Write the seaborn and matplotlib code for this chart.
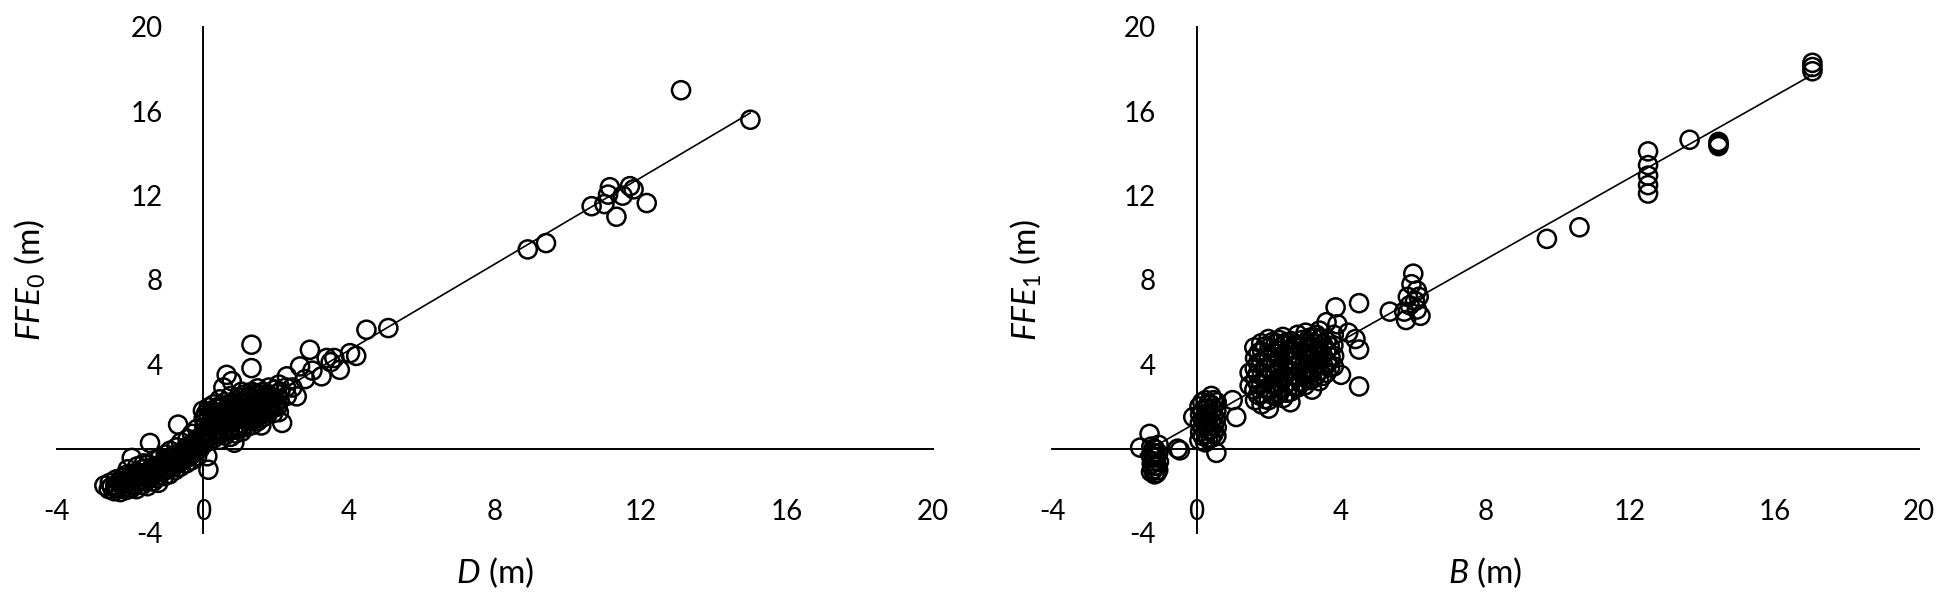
import seaborn as sns
import pandas as pd
import numpy as np
import matplotlib.pyplot as plt

# ---- left panel: D vs FFE0 ----
left_neg_band = [
    (-2.58, -1.92), (-2.55, -1.62), (-2.7, -1.75),
    (-2.43, -2.02), (-2.4, -1.74), (-2.38, -1.46),
    (-2.26, -2.06), (-2.24, -1.72), (-2.22, -1.38),
    (-2.1, -1.96), (-2.08, -1.6), (-2.12, -1.26), (-2.06, -0.98),
    (-1.96, -1.88), (-1.94, -1.5), (-1.92, -1.18),
    (-1.82, -1.92), (-1.8, -1.56), (-1.78, -1.14), (-1.8, -0.84),
    (-1.66, -1.72), (-1.64, -1.34), (-1.66, -0.98), (-1.62, -0.7),
    (-1.52, -1.78), (-1.5, -1.4), (-1.48, -1.06), (-1.5, -0.74),
    (-1.36, -1.56), (-1.34, -1.2), (-1.36, -0.86), (-1.32, -0.54),
    (-1.22, -1.62), (-1.2, -1.26), (-1.18, -0.9), (-1.2, -0.5),
    (-1.06, -1.3), (-1.04, -0.96), (-1.06, -0.6), (-1.02, -0.28),
    (-0.92, -1.22), (-0.9, -0.8), (-0.88, -0.44), (-0.9, -0.1),
    (-0.76, -1.02), (-0.74, -0.66), (-0.76, -0.3), (-0.72, 0.06),
    (-0.62, -0.86), (-0.6, -0.5), (-0.58, -0.14), (-0.6, 0.3),
    (-0.46, -0.7), (-0.44, -0.3), (-0.46, 0.06), (-0.42, 0.46),
    (-0.32, -0.56), (-0.3, -0.16), (-0.28, 0.26), (-0.3, 0.7),
    (-0.16, -0.36), (-0.14, 0.1), (-0.12, 0.5), (-0.16, 0.94),
    (-2.5, -1.8), (-2.33, -1.88), (-2.31, -1.58), (-2.17, -1.85), (-2.15, -1.5),
    (-2.0, -1.7), (-2.0, -1.35), (-1.87, -1.72), (-1.86, -1.35), (-1.72, -1.5),
    (-1.7, -1.18), (-1.58, -1.55), (-1.56, -1.2), (-1.43, -1.35), (-1.42, -1.0),
    (-1.28, -1.4), (-1.27, -1.05), (-1.13, -1.1), (-1.12, -0.75), (-0.98, -1.0),
    (-0.97, -0.65), (-0.83, -0.9), (-0.82, -0.55), (-0.68, -0.7), (-0.67, -0.35),
    (-0.53, -0.55), (-0.52, -0.2), (-0.38, -0.4), (-0.37, -0.02), (-0.23, -0.2),
    (-0.22, 0.22), (-0.08, 0.0), (-0.07, 0.4),
]
left_pos_band = [
    (0.02, 0.22), (0.0, 0.62), (0.04, 1.02), (0.02, 1.42), (0.0, 1.8),
    (0.16, 0.36), (0.14, 0.76), (0.18, 1.16), (0.15, 1.56), (0.16, 1.96),
    (0.3, 0.5), (0.32, 0.9), (0.28, 1.3), (0.31, 1.7), (0.3, 2.1),
    (0.46, 0.42), (0.44, 0.82), (0.47, 1.22), (0.45, 1.6), (0.44, 2.0), (0.46, 2.34),
    (0.6, 0.62), (0.62, 1.02), (0.58, 1.4), (0.61, 1.8), (0.6, 2.2),
    (0.76, 0.56), (0.74, 0.96), (0.77, 1.36), (0.75, 1.76), (0.74, 2.14), (0.76, 2.5),
    (0.9, 0.72), (0.92, 1.1), (0.88, 1.5), (0.91, 1.9), (0.9, 2.3),
    (1.06, 0.8), (1.04, 1.2), (1.07, 1.6), (1.05, 2.0), (1.04, 2.4), (1.06, 2.7),
    (1.2, 1.02), (1.22, 1.4), (1.18, 1.8), (1.21, 2.2), (1.2, 2.6),
    (1.36, 1.12), (1.34, 1.5), (1.37, 1.9), (1.35, 2.3), (1.34, 2.7),
    (1.5, 1.3), (1.52, 1.7), (1.48, 2.1), (1.51, 2.5), (1.5, 2.86),
    (1.66, 1.5), (1.64, 1.9), (1.67, 2.3), (1.65, 2.7),
    (1.8, 1.72), (1.82, 2.1), (1.78, 2.5), (1.81, 2.9),
    (1.96, 2.0), (1.94, 2.4), (1.97, 2.8),
    (2.1, 2.3), (2.12, 2.7), (2.08, 3.04),
    (2.3, 2.5), (2.28, 2.9),
    (0.08, 0.45), (0.08, 0.85), (0.09, 1.25), (0.08, 1.65), (0.23, 0.6), (0.22, 1.0),
    (0.24, 1.4), (0.23, 1.8), (0.38, 0.7), (0.37, 1.1), (0.39, 1.5), (0.38, 1.9),
    (0.53, 0.8), (0.52, 1.2), (0.54, 1.6), (0.53, 2.0), (0.68, 0.8), (0.67, 1.2),
    (0.69, 1.6), (0.68, 2.0), (0.83, 0.9), (0.82, 1.3), (0.84, 1.7), (0.83, 2.1),
    (0.98, 1.0), (0.97, 1.4), (0.99, 1.8), (0.98, 2.2), (1.13, 1.1), (1.12, 1.5),
    (1.14, 1.9), (1.13, 2.3), (1.28, 1.3), (1.27, 1.7), (1.29, 2.1), (1.28, 2.5),
    (1.43, 1.4), (1.42, 1.8), (1.44, 2.2), (1.43, 2.6), (1.58, 1.6), (1.57, 2.0),
    (1.59, 2.4), (1.73, 1.8), (1.72, 2.2), (1.74, 2.6), (1.88, 2.0), (1.87, 2.4),
    (2.02, 2.2), (2.03, 2.6),
]
left_sparse = [
    (-1.95, -0.44), (-1.45, 0.27), (-0.68, 1.14), (0.15, -1.0), (0.12, -0.36),
    (0.56, 2.9), (0.65, 3.5), (0.79, 3.2), (1.33, 3.82), (1.33, 4.93),
    (0.86, 0.28), (1.6, 1.1), (2.08, 1.73), (2.17, 1.22), (1.93, 1.69),
    (2.04, 1.99), (1.77, 2.6), (2.57, 2.48), (2.3, 3.43), (2.45, 2.9),
    (2.66, 3.9), (2.8, 3.3), (2.93, 4.69), (3.0, 3.7), (3.25, 3.43),
    (3.39, 4.3), (3.5, 4.1), (3.6, 4.3), (3.75, 3.74), (4.03, 4.53),
    (4.2, 4.4), (4.48, 5.64), (5.08, 5.72),
    (8.9, 9.45), (9.4, 9.75),
    (10.65, 11.5), (11.0, 11.6), (11.1, 12.05), (11.15, 12.4), (11.33, 11.0),
    (11.5, 12.0), (11.7, 12.45), (11.8, 12.3), (12.16, 11.65),
    (13.1, 17.0), (15.0, 15.6),
]

# ---- right panel: B vs FFE1 ----
right_neg_group = [
    (-1.26, -1.1), (-1.24, -0.72), (-1.27, -0.32), (-1.25, 0.1),
    (-1.16, -1.22), (-1.14, -0.82), (-1.16, -0.42), (-1.15, -0.02),
    (-1.06, -1.02), (-1.04, -0.62), (-1.06, -0.22), (-1.05, 0.18),
    (-1.2, -1.0), (-1.2, -0.6), (-1.2, -0.2), (-1.19, 0.0),
    (-1.1, -1.15), (-1.1, -0.8), (-1.11, -0.4),
    (-1.3, 0.7), (-1.56, 0.05), (-0.52, 0.0), (-0.46, -0.08),
]
right_column = [
    (0.08, 0.4), (0.1, 0.8), (0.09, 1.2), (0.1, 1.6), (0.08, 2.0),
    (0.24, 0.3), (0.26, 0.7), (0.25, 1.1), (0.24, 1.5), (0.26, 1.9), (0.25, 2.3),
    (0.4, 0.5), (0.39, 0.9), (0.41, 1.3), (0.4, 1.7), (0.39, 2.1), (0.41, 2.5),
    (0.55, 0.6), (0.56, 1.0), (0.54, 1.4), (0.55, 1.8), (0.56, 2.2),
    (0.17, 0.6), (0.17, 1.0), (0.18, 1.4), (0.17, 1.8), (0.16, 2.2),
    (0.32, 0.5), (0.33, 0.9), (0.32, 1.3), (0.31, 1.7), (0.32, 2.1),
    (0.47, 0.7), (0.48, 1.1), (0.47, 1.5), (0.46, 1.9), (0.47, 2.3),
    (-0.09, 1.5), (0.55, -0.2), (1.1, 1.5), (1.0, 2.3), (1.47, 3.0), (1.47, 3.6),
]
right_blob = [
    (1.62, 2.3), (1.6, 2.8), (1.63, 3.3), (1.61, 3.8), (1.62, 4.3), (1.6, 4.8),
    (1.8, 2.1), (1.82, 2.6), (1.79, 3.1), (1.81, 3.6), (1.8, 4.1), (1.82, 4.6), (1.79, 5.0),
    (2.0, 2.3), (2.02, 2.8), (1.99, 3.3), (2.01, 3.8), (2.0, 4.3), (2.02, 4.8), (1.99, 5.2),
    (2.2, 2.5), (2.21, 3.0), (2.19, 3.5), (2.2, 4.0), (2.22, 4.5), (2.2, 5.0),
    (2.4, 2.4), (2.41, 2.9), (2.39, 3.4), (2.4, 3.9), (2.42, 4.4), (2.4, 4.9), (2.39, 5.3),
    (2.6, 2.7), (2.62, 3.2), (2.59, 3.7), (2.61, 4.2), (2.6, 4.7), (2.62, 5.1),
    (2.8, 2.9), (2.81, 3.4), (2.79, 3.9), (2.8, 4.4), (2.82, 4.9), (2.8, 5.4),
    (3.0, 3.0), (3.02, 3.5), (2.99, 4.0), (3.01, 4.5), (3.0, 5.0), (3.02, 5.5),
    (3.2, 3.3), (3.21, 3.8), (3.19, 4.3), (3.2, 4.8), (3.22, 5.3),
    (3.4, 3.2), (3.41, 3.7), (3.39, 4.2), (3.4, 4.7), (3.42, 5.2), (3.4, 5.6),
    (3.6, 3.6), (3.61, 4.1), (3.59, 4.6), (3.6, 5.1),
    (3.8, 3.9), (3.81, 4.4), (3.79, 4.9), (3.8, 5.4),
    (1.7, 2.55), (1.71, 3.05), (1.69, 3.55), (1.7, 4.05), (1.72, 4.55),
    (1.9, 2.35), (1.91, 2.85), (1.89, 3.35), (1.9, 3.85), (1.92, 4.35), (1.9, 4.85),
    (2.1, 2.55), (2.11, 3.05), (2.09, 3.55), (2.1, 4.05), (2.12, 4.55), (2.1, 5.05),
    (2.3, 2.65), (2.31, 3.15), (2.29, 3.65), (2.3, 4.15), (2.32, 4.65), (2.3, 5.15),
    (2.5, 2.65), (2.51, 3.15), (2.49, 3.65), (2.5, 4.15), (2.52, 4.65), (2.5, 5.05),
    (2.7, 2.95), (2.71, 3.45), (2.69, 3.95), (2.7, 4.45), (2.72, 4.95),
    (2.9, 3.15), (2.91, 3.65), (2.89, 4.15), (2.9, 4.65), (2.92, 5.15),
    (3.1, 3.25), (3.11, 3.75), (3.09, 4.25), (3.1, 4.75), (3.12, 5.25),
    (3.3, 3.45), (3.31, 3.95), (3.29, 4.45), (3.3, 4.95), (3.32, 5.4),
    (3.5, 3.45), (3.51, 3.95), (3.49, 4.45), (3.5, 4.95),
    (3.7, 3.85), (3.71, 4.35), (3.69, 4.85),
]
right_sparse = [
    (2.0, 1.9), (2.6, 2.2), (3.2, 2.8), (4.0, 3.5), (3.85, 6.7), (4.5, 6.9),
    (4.5, 4.7), (4.5, 2.95), (4.2, 5.5), (4.4, 5.2), (3.9, 5.9), (3.6, 6.0),
    (6.0, 8.3), (5.95, 7.8), (6.1, 7.5), (5.85, 7.2), (6.05, 7.0), (5.9, 6.8),
    (6.1, 6.6), (5.75, 6.5), (5.35, 6.5), (5.8, 6.1), (6.2, 6.3), (6.15, 7.2),
    (9.7, 9.95), (10.6, 10.5),
    (12.5, 14.1), (12.5, 13.45), (12.5, 12.95), (12.5, 12.5), (12.5, 12.1),
    (13.65, 14.65), (14.45, 14.55), (14.45, 14.45), (14.45, 14.35),
    (17.05, 18.3), (17.05, 18.1), (17.05, 17.9),
]

x_ticks = [-4, 0, 4, 8, 12, 16, 20]
y_ticks = [-4, 4, 8, 12, 16, 20]

sns.set_style('white')
plt.rcParams['font.family'] = ['Lato', 'DejaVu Sans']
plt.rcParams['mathtext.fontset'] = 'custom'
plt.rcParams['mathtext.rm'] = 'Lato'
plt.rcParams['mathtext.it'] = 'Lato:italic'
plt.rcParams['axes.unicode_minus'] = False
plt.rcParams['text.color'] = 'black'
plt.rcParams['axes.labelcolor'] = 'black'
plt.rcParams['xtick.color'] = 'black'
plt.rcParams['ytick.color'] = 'black'

left = pd.DataFrame(left_neg_band + left_pos_band + left_sparse, columns=['D', 'FFE0'])
right = pd.DataFrame(right_neg_group + right_column + right_blob + right_sparse, columns=['B', 'FFE1'])

fig = plt.figure(figsize=(19.5, 6.09), dpi=100)
ax1 = fig.add_axes([0.0292, 0.1248, 0.4492, 0.8309])
ax2 = fig.add_axes([0.5395, 0.1248, 0.4446, 0.8309])

panels = [(ax1, left, 'D', 'FFE0', r'$\mathit{D}$ (m)', r'$\mathit{FFE}_{\mathit{0}}$ (m)'),
          (ax2, right, 'B', 'FFE1', r'$\mathit{B}$ (m)', r'$\mathit{FFE}_{\mathit{1}}$ (m)')]

for ax, df, xc, yc, xlab, ylab in panels:
    sns.regplot(data=df, x=xc, y=yc, ax=ax, ci=None, truncate=True,
                scatter_kws=dict(facecolors='none', edgecolors='black', s=170,
                                 linewidths=1.8, alpha=1),
                line_kws=dict(color='black', lw=1.2))
    ax.set_xlim(-4, 20)
    ax.set_ylim(-4, 20)
    ax.set_xticks(x_ticks)
    ax.set_yticks(y_ticks)
    for s in ['top', 'right']:
        ax.spines[s].set_visible(False)
    ax.spines['left'].set_position(('data', 0))
    ax.spines['bottom'].set_position(('data', 0))
    for s in ['left', 'bottom']:
        ax.spines[s].set_color('black')
        ax.spines[s].set_linewidth(1.4)
    ax.tick_params(axis='x', length=0, pad=36, labelsize=20)
    ax.tick_params(axis='y', length=0, pad=29, labelsize=20)
    ax.set_xlabel(xlab, fontsize=24)
    ax.set_ylabel(ylab, fontsize=24)
    ax.xaxis.set_label_coords(0.5, -0.079)
    ax.xaxis.label.set_verticalalignment('center')
    ax.yaxis.set_label_coords(-0.03, 0.5)
    ax.yaxis.label.set_verticalalignment('center')
    ax.patch.set_alpha(0)

plt.savefig('out.png', dpi=100)
